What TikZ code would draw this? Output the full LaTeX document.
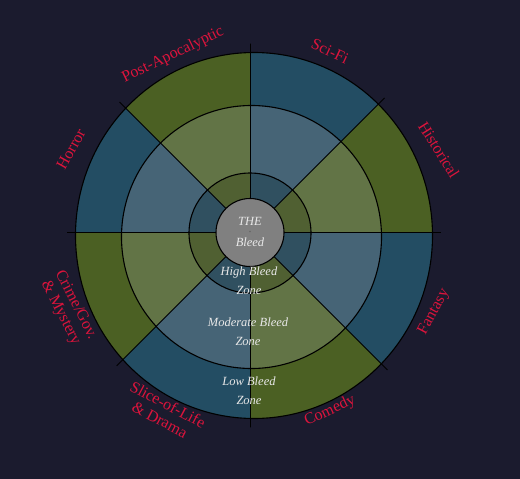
\documentclass[tikz,border=0pt]{standalone}
\usepackage{fontspec}
\setmainfont{Liberation Serif}
\usetikzlibrary{calc}
\definecolor{bg}{RGB}{27,27,46}
\definecolor{oblue}{RGB}{35,77,99}
\definecolor{ogreen}{RGB}{75,96,35}
\definecolor{mblue}{RGB}{70,100,118}
\definecolor{mgreen}{RGB}{98,116,70}
\definecolor{iblue}{RGB}{48,80,96}
\definecolor{igreen}{RGB}{80,96,50}
\definecolor{core}{RGB}{128,128,128}
\definecolor{lbl}{RGB}{220,20,60}
\definecolor{ztxt}{RGB}{232,232,232}
\begin{document}
\begin{tikzpicture}[x=1pt,y=1pt,
  genre/.style={text=lbl, font=\fontsize{16}{17}\selectfont, align=center, inner sep=0pt},
  zone/.style={text=ztxt, font=\fontsize{12.5}{19}\selectfont\itshape, align=center, inner sep=0pt},
  ringline/.style={draw=black, line width=1.1pt},
  spoke/.style={draw=black, line width=1pt}]
\fill[bg] (0,0) rectangle (520,-479);
\useasboundingbox (0,0) rectangle (520,-479);
% centres: spokes/core, outer ring, middle ring, inner ring
\coordinate (C) at (250,-232.5);
\coordinate (Co) at (254,-235.5);
\coordinate (Cm) at (251.5,-237);
\coordinate (Ci) at (250,-233);
% sectors
\foreach \a/\o/\m/\n in {0/ogreen/mgreen/igreen,45/oblue/mblue/iblue,90/ogreen/mgreen/igreen,135/oblue/mblue/iblue,180/ogreen/mgreen/igreen,225/oblue/mblue/iblue,270/ogreen/mgreen/igreen,315/oblue/mblue/iblue}{
  \begin{scope}
    \clip (C) -- ($(C)+(\a:500)$) -- ($(C)+(\a+45:500)$) -- cycle;
    \fill[\o] (Co) ellipse[x radius=178.5, y radius=183];
    \fill[\m] (Cm) ellipse[x radius=130, y radius=131.5];
    \fill[\n] (Ci) ellipse[x radius=61, y radius=60];
  \end{scope}
}
% spokes with short ticks beyond the outer ring
\begin{scope}
  \clip (Co) ellipse[x radius=187, y radius=192];
  \foreach \a in {0,45,...,315}{
    \draw[spoke] (C) -- ++(\a:300);
  }
\end{scope}
% rings
\draw[ringline] (Co) ellipse[x radius=178.5, y radius=183];
\draw[ringline] (Cm) ellipse[x radius=130, y radius=131.5];
\draw[ringline] (Ci) ellipse[x radius=61, y radius=60];
\filldraw[fill=core, draw=black, line width=1.1pt] (C) circle[radius=34];
% centre text
\node[zone] (the) at (250,-221) {THE};
\node[circle, fill=black!60, inner sep=0.6pt] (dot) at (250,-231.5) {};
\node[zone] (bleed) at (250,-242) {Bleed};
\node[zone] (high) at (249,-281) {High Bleed\\Zone};
\node[zone] (moderate) at (248,-331.5) {Moderate Bleed\\Zone};
\node[zone] (low) at (249,-390.5) {Low Bleed\\Zone};
% genre labels
\node[genre, rotate=26] (postapoc) at (173,-55) {Post-Apocalyptic};
\node[genre, rotate=-25] (scifi) at (330,-51) {Sci-Fi};
\node[genre, rotate=-58] (historical) at (439,-150) {Historical};
\node[genre, rotate=62] (fantasy) at (434,-312) {Fantasy};
\node[genre, rotate=25] (comedy) at (330,-411) {Comedy};
\node[genre, rotate=-28] (slice) at (164,-412) {Slice-of-Life\\\& Drama};
\node[genre, rotate=-63] (crime) at (68,-309) {Crime/Gov.\\\& Mystery};
\node[genre, rotate=61] (horror) at (71,-149) {Horror};
\end{tikzpicture}
\end{document}
